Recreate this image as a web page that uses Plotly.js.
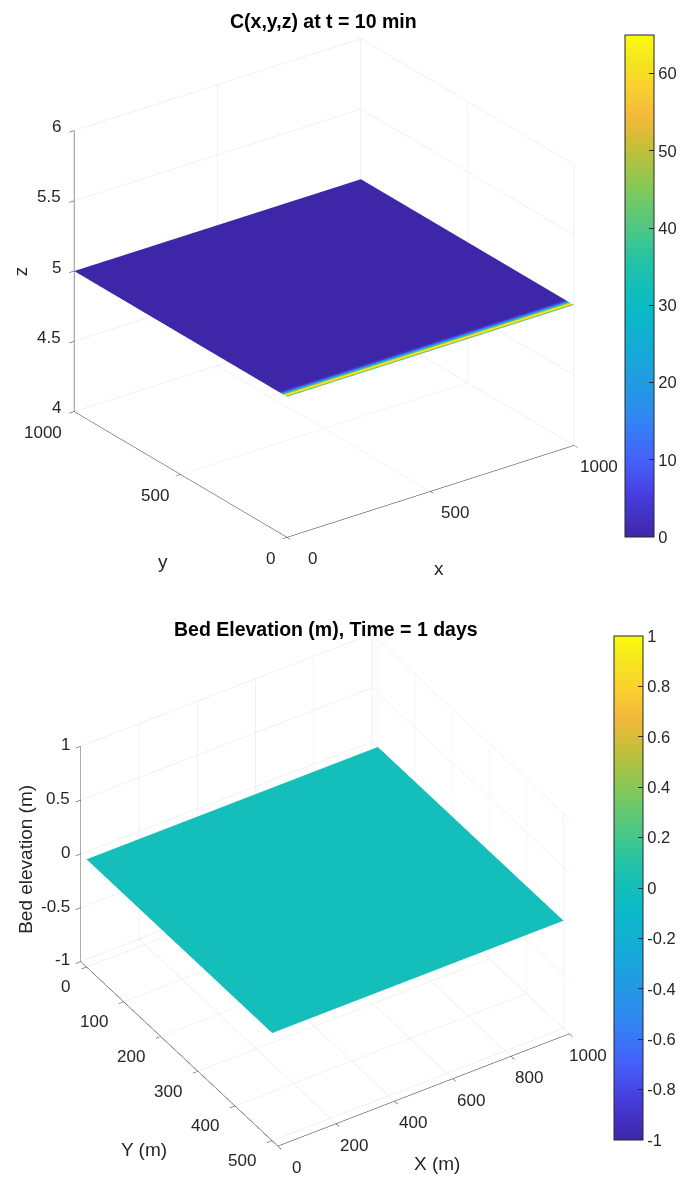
<!DOCTYPE html>
<html><head><meta charset="utf-8">
<script src="https://cdn.plot.ly/plotly-3.0.1.min.js"></script>
<style>html,body{margin:0;padding:0;background:#fff}#chart{width:685px;height:1178px}</style>
</head><body><div id="chart"></div>
<script>
// ---- Top panel: C(x,y,z) at t = 10 min ----
const topX = [0, 1000];
const topY = [0, 5, 10, 15, 20, 25, 30, 35, 40, 50, 1000];
const topC = [28, 50, 65, 58, 40, 22, 10, 4, 1, 0, 0];
const topZLevel = 5;
const topXTicks = [0, 500, 1000];
const topYTicks = [0, 500, 1000];
const topZTicks = [4, 4.5, 5, 5.5, 6];
const topCTicks = [0, 10, 20, 30, 40, 50, 60];

// ---- Bottom panel: Bed Elevation ----
const botX = [0, 1000];
const botY = [0, 500];
const botZ = [[0, 0], [0, 0]];
const botXTicks = [0, 200, 400, 600, 800, 1000];
const botYTicks = [0, 100, 200, 300, 400, 500];
const botZTicks = [-1, -0.5, 0, 0.5, 1];
const botCTicks = [-1, -0.8, -0.6, -0.4, -0.2, 0, 0.2, 0.4, 0.6, 0.8, 1];

const parula = [
  [0.00, 'rgb(62,38,168)'],
  [0.08, 'rgb(70,60,220)'],
  [0.15, 'rgb(70,95,250)'],
  [0.25, 'rgb(45,140,240)'],
  [0.35, 'rgb(25,165,220)'],
  [0.45, 'rgb(10,185,200)'],
  [0.50, 'rgb(20,190,185)'],
  [0.55, 'rgb(35,195,165)'],
  [0.62, 'rgb(80,200,130)'],
  [0.70, 'rgb(135,200,85)'],
  [0.78, 'rgb(200,190,55)'],
  [0.84, 'rgb(245,185,60)'],
  [0.90, 'rgb(250,210,45)'],
  [0.95, 'rgb(245,230,30)'],
  [1.00, 'rgb(249,251,14)']
];

const topZ = topY.map(() => topX.map(() => topZLevel));
const topSC = topC.map(c => topX.map(() => c));

const FONT = 'Liberation Sans, Arial, Helvetica, sans-serif';
const INK = '#262626';
const flat = {ambient: 1, diffuse: 0, specular: 0, roughness: 1, fresnel: 0};
const fmt = v => String(v);

function ax(ticks, range, rev) {
  const a = {
    range: range, tickvals: ticks, showticklabels: false,
    title: {text: ''},
    showgrid: true, gridcolor: '#e3e3e3', gridwidth: 1,
    showline: true, linecolor: INK, linewidth: 1,
    ticks: 'outside', ticklen: 6, tickcolor: INK,
    showbackground: false, zeroline: false, showspikes: false
  };
  if (rev) { a.autorange = 'reversed'; a.range = [range[1], range[0]]; }
  return a;
}

function eye(v, k) { return {x: v[0]*k, y: v[1]*k, z: v[2]*k}; }

function cbar(xl, yc, len, ticks) {
  return {
    x: xl/685, xanchor: 'left', xpad: 0, y: yc, yanchor: 'middle',
    len: len, lenmode: 'fraction', ypad: 0, thickness: 29,
    outlinewidth: 1, outlinecolor: INK, ticks: 'inside', ticklen: 5,
    tickcolor: INK, tickvals: ticks, ticktext: ticks.map(fmt),
    tickfont: {size: 16.5, family: FONT, color: INK}
  };
}

// tick-label and axis-title text placed through the scene's own 3D coordinates
function lab(text, p, opt) {
  return Object.assign({x: p[0], y: p[1], z: p[2], text: text, showarrow: false,
    xanchor: 'center', yanchor: 'middle',
    font: {size: 17, family: FONT, color: INK}}, opt);
}
const titleFont = {size: 19, family: FONT, color: INK};

const topAnn = [].concat(
  topZTicks.map(v => lab(fmt(v), [0, 1000, v], {xanchor: 'right', xshift: -11, yshift: 4})),
  topYTicks.map(v => lab(fmt(v), [0, v, 4], {xanchor: 'right', xshift: -10, yshift: -21})),
  topXTicks.map(v => lab(fmt(v), [v, 0, 4], {xshift: 25, yshift: -21})),
  [lab('x', [500, 0, 4], {xshift: 9, yshift: -77, font: titleFont}),
   lab('y', [0, 500, 4], {xshift: -18, yshift: -87, font: titleFont}),
   lab('z', [0, 1000, 5], {xshift: -54, textangle: -90, font: titleFont})]
);

const botAnn = [].concat(
  botZTicks.map(v => lab(fmt(v), [0, 0, v], {xanchor: 'right', xshift: -14, yshift: 7})),
  botYTicks.map(v => lab(fmt(v), [0, v, -1], {xanchor: 'right', xshift: -14, yshift: -20})),
  botXTicks.map(v => lab(fmt(v), [v, 500, -1], {xshift: 24, yshift: -27})),
  [lab('X (m)', [500, 500, -1], {xshift: 19, yshift: -79, font: titleFont}),
   lab('Y (m)', [0, 250, -1], {xshift: -35, yshift: -96, font: titleFont}),
   lab('Bed elevation (m)', [0, 0, 0], {xshift: -61, textangle: -90, font: titleFont})]
);

const data = [
  {
    type: 'surface', x: topX, y: topY, z: topZ, surfacecolor: topSC,
    cmin: 0, cmax: 65, colorscale: parula, lighting: flat, hoverinfo: 'skip',
    scene: 'scene', colorbar: cbar(625, 1 - 286/1178, 502/1178, topCTicks)
  },
  {
    type: 'surface', x: botX, y: botY, z: botZ, surfacecolor: botZ,
    cmin: -1, cmax: 1, colorscale: parula, lighting: flat, hoverinfo: 'skip',
    scene: 'scene2', colorbar: cbar(614, 1 - 888/1178, 504/1178, botCTicks)
  }
];

const layout = {
  width: 685, height: 1178,
  margin: {l: 0, r: 0, t: 0, b: 0, autoexpand: false},
  paper_bgcolor: '#fff',
  font: {family: FONT, color: INK},
  showlegend: false,
  scene: {
    domain: {x: [2/685, 646/685], y: [1 - 573/1178, 1 - 3/1178]},
    aspectmode: 'manual', aspectratio: {x: 1.25, y: 1.26, z: 1.095},
    camera: {eye: eye([-0.534, -0.725, 0.435], 1.6), up: {x: 0, y: 0, z: 1},
             center: {x: 0, y: 0, z: 0}, projection: {type: 'orthographic'}},
    xaxis: ax(topXTicks, [0, 1000]),
    yaxis: ax(topYTicks, [0, 1000]),
    zaxis: ax(topZTicks, [4, 6]),
    annotations: topAnn
  },
  scene2: {
    domain: {x: [0, 650/685], y: [1 - 1175/1178, 1 - 605/1178]},
    aspectmode: 'manual', aspectratio: {x: 1.215, y: 1.281, z: 0.945},
    camera: {eye: eye([-0.432, -0.673, 0.601], 1.65), up: {x: 0, y: 0, z: 1},
             center: {x: 0, y: 0, z: 0}, projection: {type: 'orthographic'}},
    xaxis: ax(botXTicks, [0, 1000]),
    yaxis: ax(botYTicks, [0, 500], true),
    zaxis: ax(botZTicks, [-1, 1]),
    annotations: botAnn
  },
  annotations: [
    {text: '<b>C(x,y,z) at t = 10 min</b>', xref: 'paper', yref: 'paper',
     x: 323/685, y: 1 - 21/1178, xanchor: 'center', yanchor: 'middle', showarrow: false,
     font: {size: 19.5, family: FONT, color: '#000'}},
    {text: '<b>Bed Elevation (m), Time = 1 days</b>', xref: 'paper', yref: 'paper',
     x: 326/685, y: 1 - 629/1178, xanchor: 'center', yanchor: 'middle', showarrow: false,
     font: {size: 19.5, family: FONT, color: '#000'}}
  ]
};

Plotly.newPlot('chart', data, layout, {displayModeBar: false});
</script>
</body></html>
